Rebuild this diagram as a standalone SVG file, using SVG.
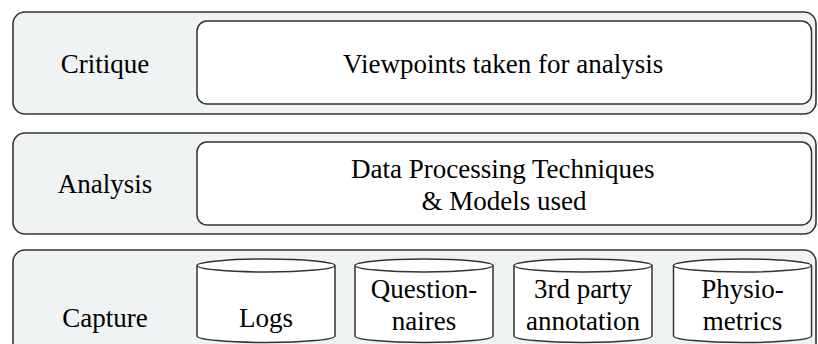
<svg xmlns="http://www.w3.org/2000/svg" width="818" height="344" viewBox="0 0 818 344">
<style>
.outer{fill:#f0f3f4;stroke:#333;stroke-width:1.6}
.inner{fill:#fff;stroke:#333;stroke-width:1.5}
.cyl{fill:#fff;stroke:#333;stroke-width:1.5}
.cyltop{fill:none;stroke:#333;stroke-width:1.5}
</style>
<defs>
<path id="cylbody" d="M0,0 A69,6.5 0 0 1 138,0 L138,70.5 A69,6.5 0 0 1 0,70.5 Z"/>
<path id="cyllid" d="M0,0 A69,6.5 0 0 0 138,0"/>
</defs>
<rect width="818" height="344" fill="#fff"/>
<g id="critique">
<rect class="outer" x="13" y="12" width="803" height="102" rx="12"/>
<text x="60.75" y="73" font-family="Liberation Serif" font-size="27">Critique</text>
</g>
<g id="viewpoints">
<rect class="inner" x="197" y="21" width="614.5" height="83" rx="10"/>
<text x="343.1" y="73" font-family="Liberation Serif" font-size="27">Viewpoints taken for analysis</text>
</g>
<g id="analysis">
<rect class="outer" x="13" y="133" width="803" height="101" rx="12"/>
<text x="57.75" y="193" font-family="Liberation Serif" font-size="27">Analysis</text>
</g>
<g id="techniques">
<rect class="inner" x="197" y="142" width="614.5" height="83" rx="10"/>
<text x="351" y="178" font-family="Liberation Serif" font-size="27">Data Processing Techniques</text>
<text x="421.5" y="210" font-family="Liberation Serif" font-size="27">&amp; Models used</text>
</g>
<g id="capture">
<rect class="outer" x="13" y="250" width="803" height="110" rx="12"/>
<text x="62.3" y="327" font-family="Liberation Serif" font-size="27">Capture</text>
</g>
<g id="logs">
<use class="cyl" href="#cylbody" x="197" y="265.5"/>
<use class="cyltop" href="#cyllid" x="197" y="265.5"/>
<text x="239" y="327" font-family="Liberation Serif" font-size="27">Logs</text>
</g>
<g id="questionnaires">
<use class="cyl" href="#cylbody" x="355" y="265.5"/>
<use class="cyltop" href="#cyllid" x="355" y="265.5"/>
<text x="370.8" y="298" font-family="Liberation Serif" font-size="27">Question-</text>
<text x="391.8" y="330" font-family="Liberation Serif" font-size="27">naires</text>
</g>
<g id="annotation">
<use class="cyl" href="#cylbody" x="514" y="265.5"/>
<use class="cyltop" href="#cyllid" x="514" y="265.5"/>
<text x="533.9" y="298" font-family="Liberation Serif" font-size="27">3rd party</text>
<text x="526" y="330" font-family="Liberation Serif" font-size="27">annotation</text>
</g>
<g id="physiometrics">
<use class="cyl" href="#cylbody" x="673.5" y="265.5"/>
<use class="cyltop" href="#cyllid" x="673.5" y="265.5"/>
<text x="701.2" y="298" font-family="Liberation Serif" font-size="27">Physio-</text>
<text x="702.8" y="330" font-family="Liberation Serif" font-size="27">metrics</text>
</g>
<g id="connectors"></g>
</svg>
